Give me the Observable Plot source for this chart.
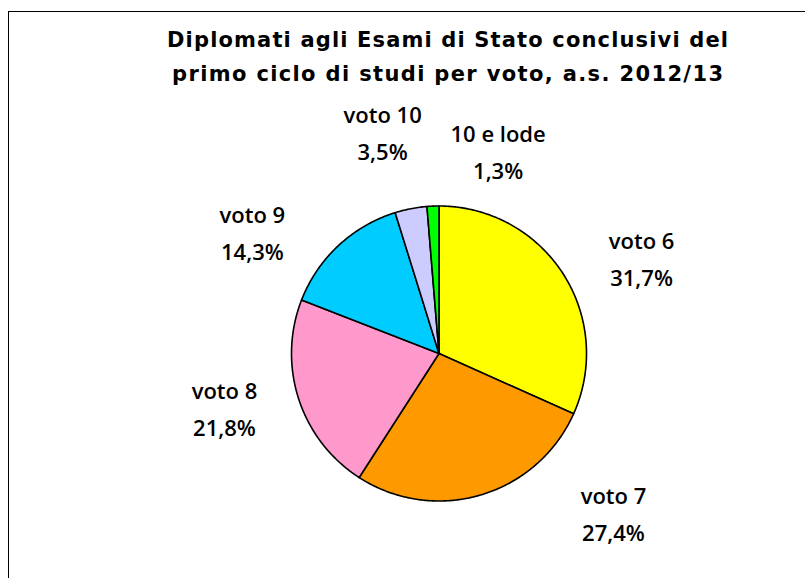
<!DOCTYPE html>
<html>
<head>
<meta charset="utf-8">
<script src="https://cdn.jsdelivr.net/npm/d3@7"></script>
<script src="https://cdn.jsdelivr.net/npm/@observablehq/plot@0.6"></script>
<style>
  html, body { margin: 0; padding: 0; background: #fff; }
  #wrap { position: relative; width: 805px; height: 578px; overflow: hidden; }
  #frame { position: absolute; left: 8px; top: 11px; width: 900px; height: 700px;
           border-left: 1px solid #000; border-top: 1px solid #000; }
  #chart { position: absolute; left: 0; top: 0; }
</style>
</head>
<body>
<div id="wrap">
  <div id="frame"></div>
  <div id="chart"></div>
</div>
<script>
// ---- data ----
const categories = ["voto 6", "voto 7", "voto 8", "voto 9", "voto 10", "10 e lode"];
const shares = [31.7, 27.4, 21.8, 14.3, 3.5, 1.3];
const colors = ["#FFFF00", "#FF9900", "#FF99CC", "#00CCFF", "#CCCCFF", "#00FF00"];
const titleLines = [
  "Diplomati agli Esami di Stato conclusivi del",
  "primo ciclo di studi per voto, a.s. 2012/13"
];

// ---- layout (label placement, polar: degrees clockwise from 12 o'clock, radius in pie radii) ----
const labelAngleDeg = [65.1, 132.8, 255.4, 302.6, 345.6, 16.4];
const labelRadius = [1.514, 1.612, 1.503, 1.502, 1.537, 1.420];

const W = 805, H = 578, CX = 438.5, CY = 353, R = 147.5;

const arcs = d3.pie().sort(null).value(d => d)(shares);
const slices = arcs.map((a, i) => {
  const pts = [{x: 0, y: 0}];
  const n = Math.max(4, Math.ceil((a.endAngle - a.startAngle) / 0.01));
  for (let k = 0; k <= n; k++) {
    const t = a.startAngle + (a.endAngle - a.startAngle) * k / n;
    pts.push({x: Math.sin(t), y: Math.cos(t)});
  }
  pts.push({x: 0, y: 0});
  return {pts, color: colors[i]};
});

const fmt = v => v.toFixed(1).replace(".", ",") + "%";
const labels = categories.map((c, i) => {
  const t = labelAngleDeg[i] * Math.PI / 180;
  return {x: labelRadius[i] * Math.sin(t), y: labelRadius[i] * Math.cos(t), text: c + "\n" + fmt(shares[i])};
});

const titleFont = "'DejaVu Sans', sans-serif";

const chart = Plot.plot({
  width: W, height: H,
  margin: 0,
  x: {domain: [-CX / R, (W - CX) / R], axis: null},
  y: {domain: [-(H - CY) / R, CY / R], axis: null},
  marks: [
    ...slices.map(s => Plot.line(s.pts, {
      x: "x", y: "y", fill: s.color, stroke: "#000", strokeWidth: 1.6,
      strokeLinejoin: "round", curve: "linear"
    })),
    Plot.text(labels, {
      x: "x", y: "y", text: "text", fill: "#000", dy: -4,
      fontSize: 22, fontWeight: 600, fontFamily: "'Open Sans', 'Liberation Sans', sans-serif",
      textAnchor: "middle", lineAnchor: "middle", lineHeight: 1.68
    }),
    Plot.text([titleLines[0]], {
      text: d => d, frameAnchor: "top-left", dx: 447, dy: 32, textAnchor: "middle",
      fontSize: 21, fontWeight: "bold", fill: "#000", fontFamily: titleFont
    }),
    Plot.text([titleLines[1]], {
      text: d => d, frameAnchor: "top-left", dx: 447, dy: 66, textAnchor: "middle",
      fontSize: 21, fontWeight: "bold", fill: "#000", fontFamily: titleFont
    })
  ]
});
chart.style.background = "transparent";
document.getElementById("chart").appendChild(chart);

// spread the title letters to the reference width
const targets = [561, 551];
chart.querySelectorAll("text").forEach(el => {
  const i = titleLines.indexOf(el.textContent);
  if (i >= 0) {
    el.setAttribute("textLength", targets[i]);
    el.setAttribute("lengthAdjust", "spacing");
  }
});
</script>
</body>
</html>
